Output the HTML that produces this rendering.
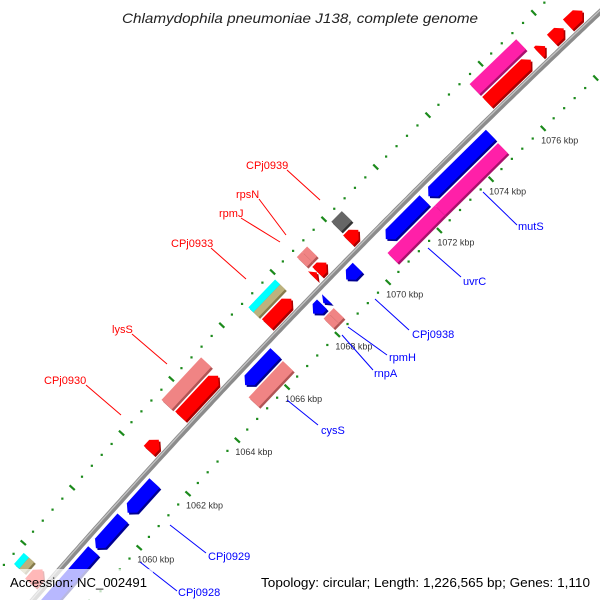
<!DOCTYPE html>
<html><head><meta charset="utf-8">
<style>
html,body{margin:0;padding:0;background:#fff;width:600px;height:600px;overflow:hidden;}
svg{display:block;font-family:"Liberation Sans",sans-serif;overflow:hidden;}
</style></head>
<body>
<svg id="map" width="600" height="600" viewBox="0 0 600 600" xmlns="http://www.w3.org/2000/svg">
<defs><clipPath id="frame"><rect x="0" y="0" width="600" height="600"/></clipPath></defs>
<g clip-path="url(#frame)">
<rect x="0" y="0" width="600" height="600" fill="#fff"/>
<g id="rings"></g>
<g id="backbone"></g>
<g id="features"></g>
<g id="ticklabels"></g>
<g id="labels"></g>
<text x="300" y="23" text-anchor="middle" font-size="14" font-style="italic" fill="#222" textLength="356" lengthAdjust="spacingAndGlyphs">Chlamydophila pneumoniae J138, complete genome</text>
<rect x="0" y="569" width="153" height="31" fill="#fff" fill-opacity="0.72"/>
<rect x="255" y="569" width="345" height="31" fill="#fff" fill-opacity="0.72"/>
<text x="10" y="587" font-size="13" fill="#000" textLength="137" lengthAdjust="spacingAndGlyphs">Accession: NC_002491</text>
<text x="261" y="587" font-size="13" fill="#000" textLength="329" lengthAdjust="spacingAndGlyphs">Topology: circular; Length: 1,226,565 bp; Genes: 1,110</text>
</g>
</svg>
<script>
// ---- data ----
const featStart = [1057.3,1057.4,1057.4,1062.15,1063.42,1063.4,1066.87,1066.85,1066.85,1068.75,1068.95,1068.85,1068.68,1070.09,1070.05,1075.4,1075.4,1077.35,1077.85,1078.45,
  1056.3,1059.2,1060.5,1065.25,1065.07,1067.95,1068.35,1068.05,1068.25,1069.25,1070.8,1072.45,1070.56,1072.4];
const featEnd   = [1057.8,1057.8,1057.8,1062.55,1064.93,1064.98,1067.83,1067.9,1067.9,1068.95,1069.15,1069.2,1068.83,1070.5,1070.45,1077.16,1077.06,1077.6,1078.3,1079.0,
  1059.1,1060.3,1061.6,1066.46,1066.44,1068.3,1068.5,1068.25,1068.45,1069.7,1072.3,1074.85,1072.4,1074.83];
const featStrand = [1,0,0,1,1,0,1,0,0,0,0,1,1,0,1,0,1,1,1,1,
  -1,-1,-1,-1,0,-1,-1,0,0,-1,-1,-1,0,0];
const featLane = ["f1","f2o","f2i","f1","f1","f2","f1","f2o","f2i","f2","f2","f1","f1","f2","f1","f2","f1","f1","f1","f1",
  "r1","r1","r1","r1","r2","r1","r1","r2","r2","r1","r1","r1","r2","r2"];
const featKind = ["red","cyan","tan","red","red","salmon","red","cyan","tan","salmon","salmon","red","red","grey","red","pink","red","red","red","red",
  "blue","blue","blue","blue","salmon","blue","blue","salmon","salmon","blue","blue","blue","pink","pink"];
const tickLabelKbp = [1060,1062,1064,1066,1068,1070,1072,1074,1076];
const tickFrom = 1056, tickTo = 1080.4, tickStep = 0.4;

// ---- geometry ----
const P0=[33,600],P1=[295,299],P2=[600,12];
const S0=1057.0, K=36.6;
const NS=3000, cum=[0], pts=[];
for(let i=0;i<=NS;i++){const t=i/NS;pts.push(bz(t));if(i>0){const a=pts[i-1],b=pts[i];cum.push(cum[i-1]+Math.hypot(b[0]-a[0],b[1]-a[1]));}}
const total=cum[NS];
function bz(t){const u=1-t;return[u*u*P0[0]+2*u*t*P1[0]+t*t*P2[0],u*u*P0[1]+2*u*t*P1[1]+t*t*P2[1]];}
function tan(t){const x=2*(1-t)*(P1[0]-P0[0])+2*t*(P2[0]-P1[0]),y=2*(1-t)*(P1[1]-P0[1])+2*t*(P2[1]-P1[1]);const l=Math.hypot(x,y);return[x/l,y/l];}
function pos(s,n){
  let L=(s-S0)*K,p,T;
  if(L<=0){T=tan(0);p=[P0[0]+T[0]*L,P0[1]+T[1]*L];}
  else if(L>=total){T=tan(1);p=[P2[0]+T[0]*(L-total),P2[1]+T[1]*(L-total)];}
  else{let lo=0,hi=NS;while(hi-lo>1){const m=(lo+hi)>>1;if(cum[m]<L)lo=m;else hi=m;}
    const f=(L-cum[lo])/(cum[hi]-cum[lo]);const t=(lo+f)/NS;p=bz(t);T=tan(t);}
  const N=[T[1],-T[0]];
  return[p[0]+N[0]*n,p[1]+N[1]*n];
}
const NSVG="http://www.w3.org/2000/svg";
function mk(tag,attrs,parent){const e=document.createElementNS(NSVG,tag);for(const k in attrs)e.setAttribute(k,attrs[k]);parent.appendChild(e);return e;}

// ---- tick rings ----
const rings=document.getElementById('rings');
const nTicks=Math.round((tickTo-tickFrom)/tickStep);
[45,-45].forEach(function(n){
  for(let i=0;i<=nTicks;i++){
    const s=tickFrom+i*tickStep;
    const major=(i%5===0);
    if(major){const a=pos(s,n+3.5),b=pos(s,n-3.5);
      const l=mk('line',{x1:a[0],y1:a[1],x2:b[0],y2:b[1],stroke:'#1b8a1b','stroke-width':2.2},rings);
      
      }
    else{const a=pos(s,n);
      const r=mk('rect',{x:a[0]-1.1,y:a[1]-1.1,width:2.2,height:2.2,fill:'#1b8a1b'},rings);
      
      }
  }
});

// ---- backbone ----
const bb=document.getElementById('backbone');
(function(){let d='';for(let s=1055.5;s<=1080.5;s+=0.1){const p=pos(s,0);d+=(d?'L':'M')+p[0].toFixed(1)+' '+p[1].toFixed(1);}
  const a=mk('path',{d:d,fill:'none',stroke:'#8c8c8c','stroke-width':5.5},bb);
  
  
  let d2='';for(let s=1055.5;s<=1080.5;s+=0.1){const p=pos(s,1.2);d2+=(d2?'L':'M')+p[0].toFixed(1)+' '+p[1].toFixed(1);}
  const b=mk('path',{d:d2,fill:'none',stroke:'#c4c4c4','stroke-width':1.3},bb);
  
  
})();

// ---- features ----
const laneN={f1:[13,7],f2:[31,7],f2o:[34.5,3.5],f2i:[27.5,3.5],r1:[-13,7],r2:[-31,7]};
const colors={red:['#ff0000','#a80000'],blue:['#0000ff','#000090'],pink:['#ff20a8','#a8106c'],salmon:['#f08484','#b05454'],grey:['#666666','#333333'],cyan:['#00ffff','#00a8a8'],tan:['#bcb27e','#857b4c']};
const fg=document.getElementById('features');
for(let i=0;i<featStart.length;i++){
  const s1=featStart[i],s2=featEnd[i],ln=laneN[featLane[i]],nc=ln[0],h=ln[1],dir=featStrand[i];
  const head=Math.min(0.18,(s2-s1));
  let q;
  if(dir===1)q=[[s1,nc+h],[s2-head,nc+h],[s2,nc],[s2-head,nc-h],[s1,nc-h]];
  else if(dir===-1)q=[[s1,nc],[s1+head,nc+h],[s2,nc+h],[s2,nc-h],[s1+head,nc-h]];
  else q=[[s1,nc+h],[s2,nc+h],[s2,nc-h],[s1,nc-h]];
  const P=q.map(function(v){return pos(v[0],v[1]);});
  const c=colors[featKind[i]];
  const sh=mk('polygon',{points:P.map(function(p){return (p[0]+1.6).toFixed(1)+','+(p[1]+1.8).toFixed(1);}).join(' '),fill:c[1]},fg);
  
  
  const f=mk('polygon',{points:P.map(function(p){return p[0].toFixed(1)+','+p[1].toFixed(1);}).join(' '),fill:c[0]},fg);
  
  
}

// ---- tick labels ----
const tl=document.getElementById('ticklabels');
tickLabelKbp.forEach(function(k){
  const p=pos(k,-45);
  const t=mk('text',{x:p[0]-2,y:p[1]+15,'font-size':9,fill:'#333'},tl);
  t.textContent=k+' kbp';
  
  
});

// ---- gene labels (layout) ----
const lbl=[
 ['CPj0939',246,169,'#ff0000',[287,170,320,200]],
 ['rpsN',236,198,'#ff0000',[259,199,286,235]],
 ['rpmJ',219,217,'#ff0000',[241,218,280,242]],
 ['CPj0933',171,247,'#ff0000',[211,248,246,279]],
 ['lysS',112,333,'#ff0000',[132,334,167,364]],
 ['CPj0930',44,384,'#ff0000',[86,385,121,415]],
 ['mutS',518,230,'#0000ff',[483,192,517,225]],
 ['uvrC',463,285,'#0000ff',[428,248,461,277]],
 ['CPj0938',412,338,'#0000ff',[375,299,409,330]],
 ['rpmH',389,361,'#0000ff',[348,327,387,355]],
 ['rnpA',374,377,'#0000ff',[342,335,373,370]],
 ['cysS',321,434,'#0000ff',[287,400,318,425]],
 ['CPj0929',208,560,'#0000ff',[170,525,206,553]],
 ['CPj0928',178,596,'#0000ff',[140,562,177,591]]
];
const lg=document.getElementById('labels');
lbl.forEach(function(L){
  const ln=mk('line',{x1:L[4][0],y1:L[4][1],x2:L[4][2],y2:L[4][3],stroke:L[3],'stroke-width':1},lg);
  
  
  const t=mk('text',{x:L[1],y:L[2],'font-size':11,fill:L[3]},lg);
  t.textContent=L[0];
  
  
});
</script>
</body></html>
